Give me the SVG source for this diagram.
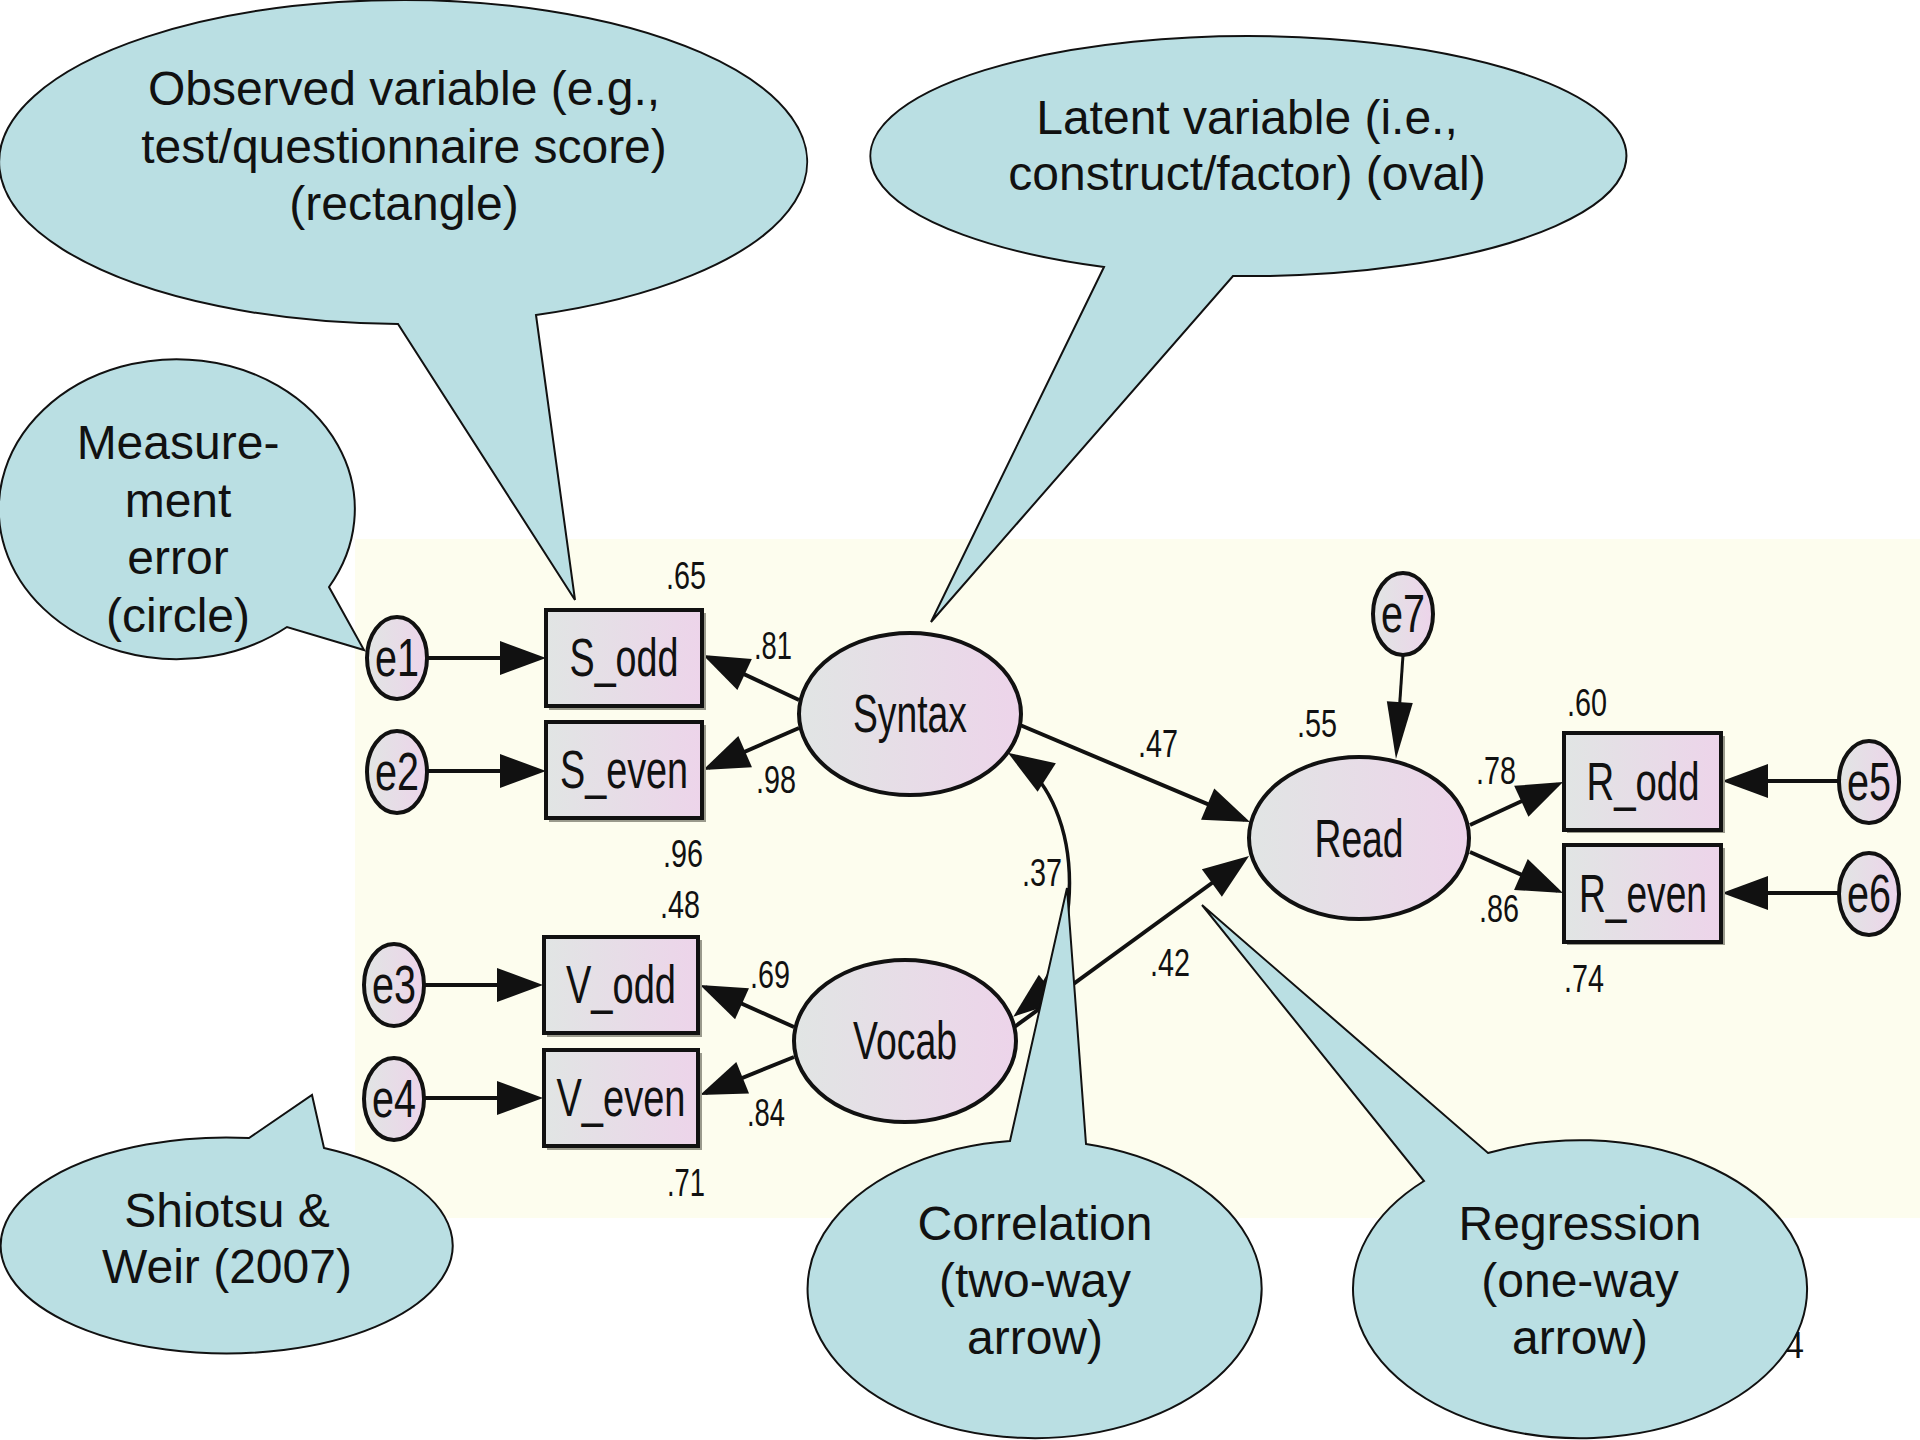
<svg xmlns="http://www.w3.org/2000/svg" width="1920" height="1440" viewBox="0 0 1920 1440">
<style>
.nd{stroke:#111;stroke-width:4;fill:url(#ng)}
.sh{fill:#9a9a8c}
.nl{font-family:"Liberation Sans",Arial,sans-serif;font-size:54px;text-anchor:middle;fill:#111}
.num{font-family:"Liberation Sans",Arial,sans-serif;font-size:38px;text-anchor:middle;fill:#111}
.ar{stroke:#111;stroke-width:4;fill:none;marker-end:url(#ah)}
.bub{fill:#badfe3;stroke:#111;stroke-width:2}
.bt{font-family:"Liberation Sans",Arial,sans-serif;font-size:48px;text-anchor:middle;fill:#111}
</style>
<defs>
<linearGradient id="ng" x1="0" y1="0" x2="1" y2="0">
<stop offset="0" stop-color="#e1e5e4"/>
<stop offset="1" stop-color="#edd4ea"/>
</linearGradient>
<marker id="ah" markerUnits="userSpaceOnUse" viewBox="0 0 46 34" markerWidth="46" markerHeight="34" refX="40" refY="17" orient="auto-start-reverse" overflow="visible">
<path d="M0,0 L46,17 L0,34 Z" fill="#111"/>
</marker>
<marker id="ah2" markerUnits="userSpaceOnUse" viewBox="0 0 57 26" markerWidth="57" markerHeight="26" refX="49" refY="13" orient="auto" overflow="visible">
<path d="M0,0 L57,13 L0,26 Z" fill="#111"/>
</marker>
</defs>
<rect x="0" y="0" width="1920" height="1440" fill="#ffffff"/>
<rect x="355" y="539" width="1565" height="679" fill="#fdfdee"/>
<text x="1804" y="1358" font-family="Liberation Sans, Arial, sans-serif" font-size="36" text-anchor="end" fill="#111">4</text>

<g id="connectors">
<path class="ar" d="M427,658 L540,658"/>
<path class="ar" d="M427,771 L540,771"/>
<path class="ar" d="M424,985 L537,985"/>
<path class="ar" d="M424,1098 L537,1098"/>
<path class="ar" d="M1839,781 L1728,781"/>
<path class="ar" d="M1839,893 L1728,893"/>
<path class="ar" d="M799,700 L708.4,657.5"/>
<path class="ar" d="M799,728 L708.5,767.6"/>
<path class="ar" d="M794,1027 L705.5,987.4"/>
<path class="ar" d="M794,1057 L705.6,1092.8"/>
<path class="ar" d="M1020,725 L1244.5,819.7"/>
<path class="ar" d="M1013,1028 L1244.2,859.5"/>
<path class="ar" d="M1470,825 L1557.6,784.5"/>
<path class="ar" d="M1470,852 L1557.5,890.6"/>
<path d="M1403,655 L1396.5,751" stroke="#111" stroke-width="3" fill="none" marker-end="url(#ah2)"/>
<path d="M1013,756 C1090,805 1085,960 1018,1013" stroke="#111" stroke-width="3.5" fill="none" marker-start="url(#ah)" marker-end="url(#ah)"/>
</g>

<g id="e1"><ellipse class="nd" cx="397" cy="658" rx="30" ry="41"/><text class="nl" x="397" y="676" textLength="44" lengthAdjust="spacingAndGlyphs">e1</text></g>
<g id="e2"><ellipse class="nd" cx="397" cy="772" rx="30" ry="41"/><text class="nl" x="397" y="790" textLength="44" lengthAdjust="spacingAndGlyphs">e2</text></g>
<g id="e3"><ellipse class="nd" cx="394" cy="985" rx="30" ry="41"/><text class="nl" x="394" y="1003" textLength="44" lengthAdjust="spacingAndGlyphs">e3</text></g>
<g id="e4"><ellipse class="nd" cx="394" cy="1099" rx="30" ry="41"/><text class="nl" x="394" y="1117" textLength="44" lengthAdjust="spacingAndGlyphs">e4</text></g>
<g id="e5"><ellipse class="nd" cx="1869" cy="782" rx="30" ry="41"/><text class="nl" x="1869" y="800" textLength="44" lengthAdjust="spacingAndGlyphs">e5</text></g>
<g id="e6"><ellipse class="nd" cx="1869" cy="894" rx="30" ry="41"/><text class="nl" x="1869" y="912" textLength="44" lengthAdjust="spacingAndGlyphs">e6</text></g>
<g id="e7"><ellipse class="nd" cx="1403" cy="614" rx="30" ry="41"/><text class="nl" x="1403" y="632" textLength="44" lengthAdjust="spacingAndGlyphs">e7</text></g>

<g id="S_odd"><rect class="sh" x="549" y="613" width="157" height="97"/><rect class="nd" x="546" y="610" width="156" height="96"/><text class="nl" x="624" y="676" textLength="109" lengthAdjust="spacingAndGlyphs">S_odd</text></g>
<g id="S_even"><rect class="sh" x="549" y="725" width="157" height="97"/><rect class="nd" x="546" y="722" width="156" height="96"/><text class="nl" x="624" y="788" textLength="128" lengthAdjust="spacingAndGlyphs">S_even</text></g>
<g id="V_odd"><rect class="sh" x="547" y="940" width="155" height="97"/><rect class="nd" x="544" y="937" width="154" height="96"/><text class="nl" x="621" y="1003" textLength="110" lengthAdjust="spacingAndGlyphs">V_odd</text></g>
<g id="V_even"><rect class="sh" x="547" y="1053" width="155" height="97"/><rect class="nd" x="544" y="1050" width="154" height="96"/><text class="nl" x="621" y="1116" textLength="129" lengthAdjust="spacingAndGlyphs">V_even</text></g>
<g id="R_odd"><rect class="sh" x="1567" y="736" width="158" height="97"/><rect class="nd" x="1564" y="733" width="157" height="97"/><text class="nl" x="1643" y="800" textLength="113" lengthAdjust="spacingAndGlyphs">R_odd</text></g>
<g id="R_even"><rect class="sh" x="1567" y="848" width="158" height="97"/><rect class="nd" x="1564" y="845" width="157" height="97"/><text class="nl" x="1643" y="912" textLength="128" lengthAdjust="spacingAndGlyphs">R_even</text></g>

<g id="Syntax"><ellipse class="nd" cx="910" cy="714" rx="111" ry="81"/><text class="nl" x="910" y="732" textLength="114" lengthAdjust="spacingAndGlyphs">Syntax</text></g>
<g id="Vocab"><ellipse class="nd" cx="905" cy="1041" rx="111" ry="81"/><text class="nl" x="905" y="1059" textLength="104" lengthAdjust="spacingAndGlyphs">Vocab</text></g>
<g id="Read"><ellipse class="nd" cx="1359" cy="838" rx="110" ry="81"/><text class="nl" x="1359" y="857" textLength="89" lengthAdjust="spacingAndGlyphs">Read</text></g>

<g id="values">
<text class="num" x="686" y="589" textLength="40" lengthAdjust="spacingAndGlyphs">.65</text>
<text class="num" x="773" y="659" textLength="38" lengthAdjust="spacingAndGlyphs">.81</text>
<text class="num" x="776" y="793" textLength="40" lengthAdjust="spacingAndGlyphs">.98</text>
<text class="num" x="683" y="867" textLength="40" lengthAdjust="spacingAndGlyphs">.96</text>
<text class="num" x="680" y="918" textLength="40" lengthAdjust="spacingAndGlyphs">.48</text>
<text class="num" x="770" y="988" textLength="40" lengthAdjust="spacingAndGlyphs">.69</text>
<text class="num" x="766" y="1126" textLength="38" lengthAdjust="spacingAndGlyphs">.84</text>
<text class="num" x="686" y="1196" textLength="38" lengthAdjust="spacingAndGlyphs">.71</text>
<text class="num" x="1042" y="886" textLength="40" lengthAdjust="spacingAndGlyphs">.37</text>
<text class="num" x="1158" y="757" textLength="40" lengthAdjust="spacingAndGlyphs">.47</text>
<text class="num" x="1170" y="976" textLength="40" lengthAdjust="spacingAndGlyphs">.42</text>
<text class="num" x="1317" y="737" textLength="40" lengthAdjust="spacingAndGlyphs">.55</text>
<text class="num" x="1587" y="716" textLength="40" lengthAdjust="spacingAndGlyphs">.60</text>
<text class="num" x="1496" y="784" textLength="40" lengthAdjust="spacingAndGlyphs">.78</text>
<text class="num" x="1499" y="922" textLength="40" lengthAdjust="spacingAndGlyphs">.86</text>
<text class="num" x="1584" y="992" textLength="40" lengthAdjust="spacingAndGlyphs">.74</text>
</g>

<g id="callout-observed">
<path class="bub" d="M398,324 A404 162 0 1 1 536,315 L575,600 Z"/>
<text class="bt" x="404" y="105">Observed variable (e.g.,</text>
<text class="bt" x="404" y="163">test/questionnaire score)</text>
<text class="bt" x="404" y="220">(rectangle)</text>
</g>
<g id="callout-latent">
<path class="bub" d="M1104,267 A378 120 0 1 1 1233,276 L931,622 Z"/>
<text class="bt" x="1247" y="134">Latent variable (i.e.,</text>
<text class="bt" x="1247" y="190">construct/factor) (oval)</text>
</g>
<g id="callout-error">
<path class="bub" d="M287,627 A178 150 0 1 1 329,587 L364,650 Z"/>
<text class="bt" x="178" y="459">Measure-</text>
<text class="bt" x="178" y="517">ment</text>
<text class="bt" x="178" y="574">error</text>
<text class="bt" x="178" y="632">(circle)</text>
</g>
<g id="callout-source">
<path class="bub" d="M324,1148 A226 108 0 1 1 249,1138 L312,1095 Z"/>
<text class="bt" x="227" y="1227">Shiotsu &amp;</text>
<text class="bt" x="227" y="1283">Weir (2007)</text>
</g>
<g id="callout-correlation">
<path class="bub" d="M1086,1144 A227 149 0 1 1 1010,1141 L1067,888 Z"/>
<text class="bt" x="1035" y="1240">Correlation</text>
<text class="bt" x="1035" y="1297">(two-way</text>
<text class="bt" x="1035" y="1354">arrow)</text>
</g>
<g id="callout-regression">
<path class="bub" d="M1488,1153 A227 149 0 1 1 1424,1181 L1202,905 Z"/>
<text class="bt" x="1580" y="1240">Regression</text>
<text class="bt" x="1580" y="1297">(one-way</text>
<text class="bt" x="1580" y="1354">arrow)</text>
</g>
</svg>
